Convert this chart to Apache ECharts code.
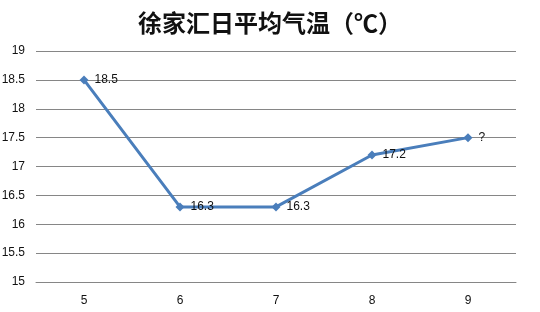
<!DOCTYPE html>
<html><head><meta charset="utf-8">
<script src="https://cdn.jsdelivr.net/npm/echarts@6/dist/echarts.min.js"></script>
<style>html,body{margin:0;padding:0;background:#fff}#c{width:540px;height:312px}</style>
</head><body><div id="c"></div>
<script>
var titleText = '徐家汇日平均气温（℃）';
var categories = ['5', '6', '7', '8', '9'];
var values = [18.5, 16.3, 16.3, 17.2, 17.5];
var pointLabels = ['18.5', '16.3', '16.3', '17.2', '?'];
var yMin = 15, yMax = 19, yStep = 0.5;

var chart = echarts.init(document.getElementById('c'));
chart.setOption({
  animation: false,
  backgroundColor: '#fff',
  title: {
    text: titleText, left: 'center', top: 6,
    textStyle: { fontFamily: '"Noto Sans CJK SC"', fontSize: 24, fontWeight: 'bold', color: '#111' }
  },
  grid: { left: 36, right: 24, top: 51, bottom: 30, containLabel: false, outerBoundsMode: 'none' },
  xAxis: {
    type: 'category', data: categories, boundaryGap: true,
    axisLine: { show: true, lineStyle: { color: '#868686', width: 1 } },
    axisTick: { show: false },
    axisLabel: { color: '#111', fontSize: 12, margin: 13, fontFamily: 'Liberation Sans, Arial' }
  },
  yAxis: {
    type: 'value', min: yMin, max: yMax, interval: yStep,
    axisLine: { show: false }, axisTick: { show: false },
    splitLine: { lineStyle: { color: '#868686', width: 1 } },
    axisLabel: { color: '#111', fontSize: 12, margin: 11, fontFamily: 'Liberation Sans, Arial' }
  },
  series: [{
    type: 'line', data: values,
    symbol: 'diamond', symbolSize: 9,
    lineStyle: { color: '#4a7ebb', width: 3 },
    itemStyle: { color: '#4a7ebb' },
    label: {
      show: true, position: 'right', distance: 6,
      color: '#111', fontSize: 12, fontFamily: 'Liberation Sans, Arial',
      formatter: function (p) { return pointLabels[p.dataIndex]; }
    }
  }]
});
</script></body></html>
